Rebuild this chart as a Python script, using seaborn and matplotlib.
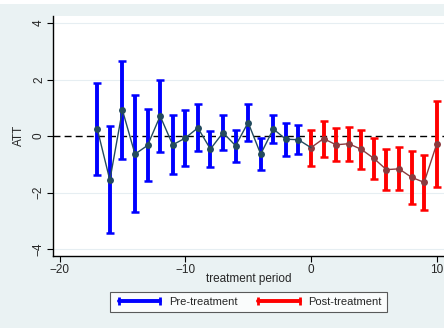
import matplotlib
matplotlib.use("Agg")
import matplotlib.pyplot as plt
import seaborn as sns
import pandas as pd
import numpy as np
from matplotlib.lines import Line2D
from matplotlib.patches import Rectangle

sns.set_theme(style="white")
plt.rcParams['font.family'] = ['Liberation Sans', 'DejaVu Sans']

pre_period = [-17, -16, -15, -14, -13, -12, -11, -10, -9, -8, -7, -6, -5, -4, -3, -2, -1]
pre_att = [0.25, -1.56, 0.92, -0.64, -0.33, 0.71, -0.31, -0.07, 0.29, -0.46, 0.12, -0.34, 0.48, -0.64, 0.25, -0.11, -0.13]
pre_upper = [1.87, 0.35, 2.67, 1.45, 0.96, 1.98, 0.73, 0.91, 1.13, 0.18, 0.75, 0.22, 1.13, -0.08, 0.74, 0.48, 0.39]
pre_lower = [-1.38, -3.45, -0.81, -2.70, -1.59, -0.58, -1.35, -1.05, -0.52, -1.11, -0.48, -0.92, -0.16, -1.20, -0.26, -0.71, -0.64]

post_period = [0, 1, 2, 3, 4, 5, 6, 7, 8, 9, 10]
post_att = [-0.41, -0.09, -0.31, -0.27, -0.47, -0.79, -1.19, -1.16, -1.46, -1.64, -0.28]
post_upper = [0.21, 0.53, 0.29, 0.33, 0.21, -0.06, -0.46, -0.39, -0.53, -0.67, 1.24]
post_lower = [-1.05, -0.73, -0.90, -0.87, -1.16, -1.51, -1.92, -1.92, -2.41, -2.62, -1.79]

legend_labels = ["Pre-treatment", "Post-treatment"]

pre_df = pd.DataFrame({"period": pre_period, "att": pre_att, "lo": pre_lower, "hi": pre_upper})
post_df = pd.DataFrame({"period": post_period, "att": post_att, "lo": post_lower, "hi": post_upper})

bg = "#EAF2F3"
fig = plt.figure(figsize=(4.44, 3.28), dpi=100, facecolor=bg)
fig.patches.append(Rectangle((0, 1 - 4/328), 1, 4/328, transform=fig.transFigure,
                             facecolor="white", edgecolor="none", zorder=-1))
ax = fig.add_axes([0.12, 0.221, 0.88, 0.730])
ax.set_facecolor("white")

for y in [-4, -2, 2, 4]:
    ax.axhline(y, color="#E6EEF2", lw=0.8, zorder=0)
ax.axhline(0, color="black", lw=1.0, ls=(0, (5, 3)), zorder=1)

pre_color = "#0000FF"
post_color = "#FF0000"
pre_pt = "#234B5E"
post_pt = "#8B3A3E"

for df, c in [(pre_df, pre_color), (post_df, post_color)]:
    ax.errorbar(df["period"], df["att"],
                yerr=[df["att"] - df["lo"], df["hi"] - df["att"]],
                fmt="none", ecolor=c, elinewidth=2.8, capsize=2.8, capthick=1.8, zorder=2)

sns.lineplot(data=pre_df, x="period", y="att", ax=ax, color=pre_pt, lw=1.0,
             marker="o", markersize=5, markeredgewidth=0, zorder=3)
sns.lineplot(data=post_df, x="period", y="att", ax=ax, color=post_pt, lw=1.0,
             marker="o", markersize=5, markeredgewidth=0, zorder=3)
# connect last pre point with first post point
ax.plot([pre_period[-1], post_period[0]], [pre_att[-1], post_att[0]], color=pre_pt, lw=1.0, zorder=3)

ax.set_xlim(-20.5, 10.58)
ax.set_ylim(-4.23, 4.25)
ax.set_xticks([-20, -10, 0, 10])
ax.set_yticks([-4, -2, 0, 2, 4])
ax.set_xticklabels(["\u221220", "\u221210", "0", "10"])
ax.set_yticklabels(["\u22124", "\u22122", "0", "2", "4"], rotation=90, va="center")
ax.tick_params(axis="both", direction="out", length=4, width=0.8, color="black",
               labelsize=8.5, pad=2, left=True, bottom=True)
for s in ["top", "right"]:
    ax.spines[s].set_visible(False)
for s in ["left", "bottom"]:
    ax.spines[s].set_color("black")
    ax.spines[s].set_linewidth(1.0)

ax.set_xlabel("treatment period", fontsize=8.5, labelpad=-2)
ax.set_ylabel("ATT", fontsize=8.5, labelpad=6)

handles = [Line2D([], [], color=pre_color, lw=2.8, marker="|", markersize=6, mew=2),
           Line2D([], [], color=post_color, lw=2.8, marker="|", markersize=6, mew=2)]
leg = fig.legend(handles, legend_labels, loc="center", bbox_to_anchor=(0.56, 0.080),
                 ncol=2, numpoints=2, fontsize=8, frameon=True, fancybox=False,
                 handlelength=4.3, columnspacing=1.6, handletextpad=0.5,
                 borderpad=0.45, borderaxespad=0)
leg.get_frame().set_edgecolor("#333333")
leg.get_frame().set_linewidth(0.8)
leg.get_frame().set_facecolor("white")

fig.savefig("out.png", dpi=100, facecolor=bg)
